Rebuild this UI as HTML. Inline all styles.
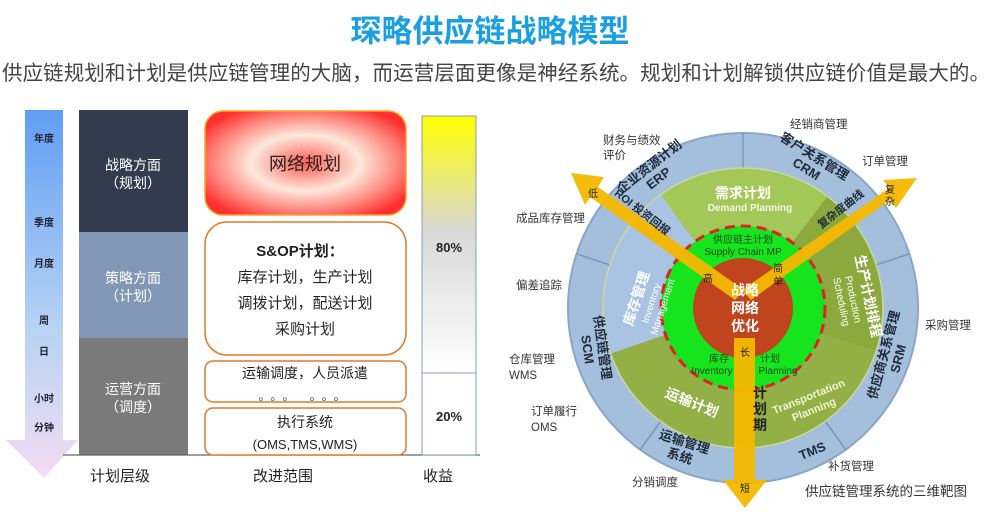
<!DOCTYPE html>
<html><head><meta charset="utf-8"><style>
body{margin:0;width:997px;height:522px;background:#fff;overflow:hidden;font-family:"Liberation Sans","Noto Sans CJK SC",sans-serif;}
svg{position:absolute;left:0;top:0}
</style></head><body>
<svg width="997" height="522" viewBox="0 0 997 522" font-family="Liberation Sans, Noto Sans CJK SC, sans-serif">
<defs>
<linearGradient id="ba" x1="0" y1="0" x2="0" y2="1"><stop offset="0" stop-color="#5f9ef5"/><stop offset="0.6" stop-color="#b9d3f3"/><stop offset="1" stop-color="#f3dcf3"/></linearGradient>
<linearGradient id="yb" x1="0" y1="0" x2="0" y2="1"><stop offset="0" stop-color="#ffff00"/><stop offset="0.45" stop-color="#d8d8d8"/><stop offset="1" stop-color="#ffffff"/></linearGradient>
<radialGradient id="rg" cx="0.5" cy="0.5" r="0.6"><stop offset="0" stop-color="#ff5a50"/><stop offset="0.45" stop-color="#fde8dc"/><stop offset="0.75" stop-color="#ff8a80"/><stop offset="1" stop-color="#ff3030"/></radialGradient>
</defs>
<text x="490" y="42" text-anchor="middle" font-size="31" font-weight="bold" fill="#1aa0e2">琛略供应链战略模型</text>
<text x="2" y="80" font-size="20.5" fill="#444" textLength="988">供应链规划和计划是供应链管理的大脑，而运营层面更像是神经系统。规划和计划解锁供应链价值是最大的。</text>

<!-- left blue arrow -->
<polygon points="25,110 63,110 63,440 78,440 44,478 6,440 25,440" fill="url(#ba)"/>
<g font-size="10" font-weight="bold" fill="#223" text-anchor="middle">
<text x="44" y="142">年度</text><text x="44" y="226">季度</text><text x="44" y="267">月度</text><text x="44" y="324">周</text><text x="44" y="355">日</text><text x="44" y="402">小时</text><text x="44" y="431">分钟</text></g>
<rect x="79" y="110" width="109" height="122" fill="#323c4e"/>
<rect x="79" y="232" width="109" height="106" fill="#8197b5"/>
<rect x="79" y="338" width="109" height="117" fill="#7a7a7a"/>
<g font-size="14" fill="#fff" text-anchor="middle">
<text x="133" y="170">战略方面</text><text x="133" y="188">（规划）</text>
<text x="133" y="283">策略方面</text><text x="133" y="301">（计划）</text>
<text x="133" y="394">运营方面</text><text x="133" y="412">（调度）</text></g>
<line x1="63" y1="455" x2="480" y2="455" stroke="#666" stroke-width="1.2"/>
<rect x="205" y="111" width="201" height="104" rx="18" fill="url(#rg)" stroke="#f5a623" stroke-width="1.5"/>
<text x="305" y="170" text-anchor="middle" font-size="18" fill="#222">网络规划</text>
<rect x="205" y="222" width="201" height="133" rx="22" fill="#fff" stroke="#e07a2a" stroke-width="1.5"/>
<g text-anchor="middle" fill="#222" font-size="15">
<text x="300" y="256" font-weight="bold">S&amp;OP计划：</text>
<text x="305" y="282">库存计划，生产计划</text>
<text x="305" y="308">调拨计划，配送计划</text>
<text x="305" y="334">采购计划</text></g>
<rect x="205" y="361" width="201" height="41" rx="8" fill="#fff" stroke="#e07a2a" stroke-width="1.5"/>
<text x="305" y="378" text-anchor="middle" font-size="14" fill="#222">运输调度，人员派遣</text>
<text x="305" y="400" text-anchor="middle" font-size="12" fill="#444" letter-spacing="6">。。。 。。。</text>
<rect x="205" y="408" width="201" height="47" rx="8" fill="#fff" stroke="#e07a2a" stroke-width="1.5"/>
<text x="305" y="427" text-anchor="middle" font-size="14" fill="#222">执行系统</text>
<text x="305" y="449" text-anchor="middle" font-size="13" fill="#222">(OMS,TMS,WMS)</text>
<rect x="422" y="116" width="54" height="257" fill="url(#yb)" stroke="#8a9bb8"/>
<rect x="422" y="373" width="54" height="82" fill="#fff" stroke="#8a9bb8"/>
<text x="449" y="252" text-anchor="middle" font-size="13" font-weight="bold" fill="#222">80%</text>
<text x="449" y="421" text-anchor="middle" font-size="13" font-weight="bold" fill="#222">20%</text>
<g font-size="15" fill="#222" text-anchor="middle"><text x="120" y="481">计划层级</text><text x="283" y="481">改进范围</text><text x="438" y="481">收益</text></g>

<!-- wheel -->
<circle cx="743" cy="308" r="175" fill="#a3bfdc" stroke="#8aa6c8" stroke-width="2"/>
<g stroke="#7d97b8" stroke-width="1.5">
<line x1="743" y1="133" x2="743" y2="168"/>
<line x1="577" y1="254" x2="610" y2="265"/>
<line x1="909" y1="254" x2="876" y2="265"/>
<line x1="640" y1="450" x2="661" y2="421"/>
<line x1="846" y1="450" x2="825" y2="421"/></g>
<path d="M743,308 L610.6,353.6 A140,140 0 0 1 660.7,194.7 Z" fill="#a9c3e3"/>
<path d="M743,308 L660.7,194.7 A140,140 0 0 1 827.3,196.2 Z" fill="#a4c858"/>
<path d="M743,308 L827.3,196.2 A140,140 0 0 1 876.2,351.3 Z" fill="#8ba93c"/>
<path d="M743,308 L876.2,351.3 A140,140 0 0 1 610.6,353.6 Z" fill="#93b046"/>
<circle cx="743" cy="308" r="140" fill="none" stroke="#c8d8a0" stroke-width="1.5"/>
<circle cx="743" cy="308" r="82" fill="#16e41c"/>
<circle cx="743" cy="308" r="82" fill="none" stroke="#e0202a" stroke-width="3" stroke-dasharray="10,6"/>
<circle cx="743" cy="308" r="50" fill="#c0441e"/>
<!-- yellow arrows -->
<g fill="#f5b800" opacity="0.95">
<polygon points="735,300 590,197 585,205 571,173 604,177 598,187 744,290"/>
<polygon points="751,300 890,200 896,208 917,178 883,180 889,188 742,290"/>
<polygon points="734,338 755,338 755,480 767,480 745,508 723,480 734,480"/>
</g>
<g font-size="14" font-weight="bold" fill="#fff" text-anchor="middle">
<text x="745" y="295">战略</text><text x="745" y="313">网络</text><text x="745" y="331">优化</text></g>
<g font-size="10" fill="#1a4a1a" text-anchor="middle">
<text x="743" y="243">供应链主计划</text><text x="743" y="255">Supply Chain MP</text>
<text x="719" y="362">库存</text><text x="712" y="374">Inventory</text>
<text x="770" y="362">计划</text><text x="778" y="374">Planning</text></g>
<g font-size="10" fill="#222" text-anchor="middle">
<text x="708" y="282">高</text><text x="778" y="272">简</text><text x="778" y="285">单</text><text x="745" y="356">长</text>
<text x="593" y="197">低</text><text x="890" y="193">复</text><text x="890" y="205">杂</text><text x="745" y="492">短</text></g>
<text x="743" y="198" text-anchor="middle" font-size="14" font-weight="bold" fill="#fff">需求计划</text>
<text x="750" y="211" text-anchor="middle" font-size="10" font-weight="bold" fill="#f4f8e8">Demand Planning</text>
<g transform="translate(641,300) rotate(-72)" text-anchor="middle" fill="#fff"><text font-size="14" font-weight="bold">库存管理</text><text y="14" font-size="10">Inventory</text><text y="26" font-size="10">Management</text></g>
<g transform="translate(850,300) rotate(78)" text-anchor="middle" fill="#fff"><text font-size="14" font-weight="bold" y="-14">生产计划排程</text><text font-size="10">Production</text><text y="12" font-size="10">Scheduling</text></g>
<text transform="translate(690,407) rotate(22)" text-anchor="middle" font-size="14" font-weight="bold" fill="#fff">运输计划</text>
<g transform="translate(810,400) rotate(-22)" text-anchor="middle" font-size="11" font-weight="bold" fill="#f0f4d0"><text>Transportation</text><text y="14">Planning</text></g>
<g transform="translate(760,408)" font-size="14" font-weight="bold" fill="#222" text-anchor="middle"><text y="-10">计</text><text y="6">划</text><text y="22">期</text></g>
<g font-size="13" font-weight="bold" fill="#1f2a3a" text-anchor="middle">
<g transform="translate(652,170) rotate(-38)"><text>企业资源计划</text><text y="15">ERP</text></g>
<g transform="translate(812,160) rotate(32)"><text>客户关系管理</text><text y="15">CRM</text></g>
<g transform="translate(598,348) rotate(82)"><text>供应链管理</text><text y="15">SCM</text></g>
<g transform="translate(888,356) rotate(-75)"><text>供应商关系管理</text><text y="15">SRM</text></g>
<g transform="translate(683,446) rotate(18)"><text>运输管理</text><text y="15">系统</text></g>
<text transform="translate(814,455) rotate(-22)">TMS</text>
<text transform="translate(640,215) rotate(38)" font-size="11">ROI 投资回报</text>
<text transform="translate(843,212) rotate(-38)" font-size="11">复杂度曲线</text>
</g>
<g font-size="11.5" fill="#333">
<text x="790" y="128">经销商管理</text>
<text x="603" y="144">财务与绩效</text><text x="603" y="159">评价</text>
<text x="862" y="165">订单管理</text>
<text x="516" y="222">成品库存管理</text>
<text x="516" y="289">偏差追踪</text>
<text x="925" y="329">采购管理</text>
<text x="509" y="363">仓库管理</text><text x="509" y="379">WMS</text>
<text x="531" y="415">订单履行</text><text x="531" y="431">OMS</text>
<text x="828" y="470">补货管理</text>
<text x="632" y="486">分销调度</text>
<text x="805" y="496" font-size="13.5">供应链管理系统的三维靶图</text></g>
</svg>
</body></html>
